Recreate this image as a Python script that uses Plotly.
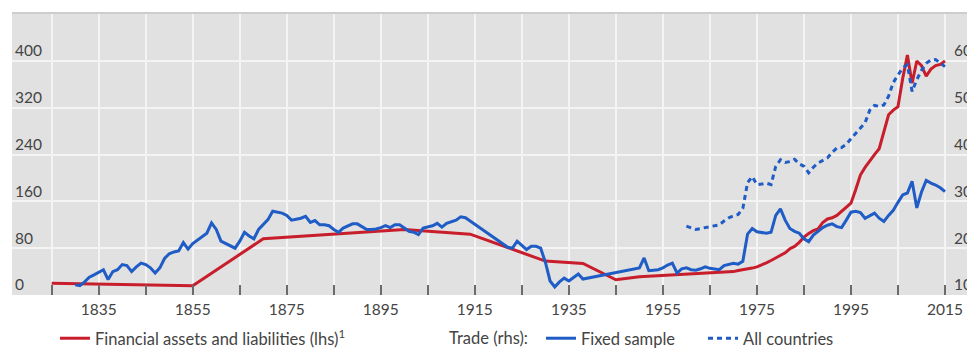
import plotly.graph_objects as go

# ---------------- data ----------------
fin_years = [1825, 1855, 1870, 1900, 1914, 1930, 1938, 1945, 1950, 1960,
             1970, 1971, 1972, 1973, 1974, 1975, 1976, 1977, 1978, 1979,
             1980, 1981, 1982, 1983, 1984, 1985, 1986, 1987, 1988, 1989,
             1990, 1991, 1992, 1993, 1994, 1995, 1996, 1997, 1998, 1999,
             2000, 2001, 2002, 2003, 2004, 2005, 2006, 2007, 2008, 2009,
             2010, 2011, 2012, 2013, 2014, 2015]
fin_values = [20, 16, 96, 112, 104, 58, 54, 26, 31, 36,
              40, 42, 43, 45, 46, 48, 51, 55, 59, 63,
              67, 72, 79, 83, 90, 99, 105, 110, 113, 124,
              130, 132, 136, 143, 150, 157, 180, 205, 218, 230,
              240, 250, 278, 308, 316, 322, 370, 410, 362, 400,
              392, 374, 386, 392, 394, 400]

fixed_years = list(range(1830, 1915)) + list(range(1921, 1940)) + list(range(1950, 2016))
fixed_values = [
    # 1830-1914
    12.2, 12.0, 12.8, 13.8, 14.3, 14.8, 15.4, 13.3, 15.0, 15.4,
    16.5, 16.3, 15.0, 16.0, 16.8, 16.5, 15.8, 14.7, 15.8, 17.8,
    18.8, 19.2, 19.4, 21.2, 19.8, 21.0, 21.8, 22.5, 23.2, 25.4,
    24.0, 21.5, 21.0, 20.5, 20.0, 21.5, 23.4, 22.6, 22.0, 24.0,
    25.0, 26.1, 27.9, 27.7, 27.5, 27.0, 26.0, 26.2, 26.4, 26.8,
    25.5, 25.9, 25.0, 25.0, 24.8, 24.0, 23.4, 24.3, 24.8, 25.2,
    25.2, 24.6, 24.0, 24.0, 24.1, 24.4, 24.8, 24.4, 25.0, 25.0,
    24.2, 23.6, 23.4, 22.9, 24.3, 24.6, 24.8, 25.3, 24.5, 25.3,
    25.6, 26.0, 26.7, 26.5, 25.8,
    # 1921-1939
    21.0, 20.2, 20.0, 21.5, 20.6, 19.7, 20.4, 20.4, 20.0, 17.0,
    13.0, 11.7, 12.8, 13.6, 13.0, 13.7, 14.5, 13.4, 13.6,
    # 1950-2015
    15.8, 17.9, 15.2, 15.3, 15.4, 15.8, 16.4, 16.8, 14.7, 15.6,
    15.8, 15.4, 15.3, 15.6, 16.0, 15.7, 15.5, 15.4, 16.3, 16.6,
    16.8, 16.6, 17.2, 23.0, 24.2, 23.5, 23.3, 23.2, 23.4, 27.0,
    28.4, 26.0, 24.2, 23.6, 23.2, 22.0, 21.4, 22.8, 23.6, 24.4,
    24.9, 25.2, 24.6, 24.4, 26.0, 27.7, 27.9, 27.6, 26.4, 27.0,
    27.5, 26.4, 25.7, 27.0, 28.1, 29.8, 31.4, 31.8, 34.3, 28.6,
    32.0, 34.5, 33.9, 33.5, 32.9, 32.1]

all_years = list(range(1960, 2016))
all_values = [24.7, 24.3, 24.0, 24.2, 24.4, 24.5, 24.8, 25.0, 25.8, 26.5,
              26.9, 27.2, 28.5, 34.0, 35.3, 33.6, 33.7, 33.9, 33.6, 37.5,
              38.9, 38.3, 38.5, 39.0, 38.0, 37.5, 36.1, 37.3, 38.2, 38.8,
              39.3, 40.5, 41.4, 41.5, 42.2, 43.4, 44.5, 45.8, 46.8, 49.5,
              50.5, 50.3, 50.6, 52.5, 55.4, 57.0, 58.5, 59.2, 53.5, 56.0,
              58.0, 59.5, 60.2, 60.3, 59.5, 58.8]

x_label_years = [1835, 1855, 1875, 1895, 1915, 1935, 1955, 1975, 1995, 2015]
x_label_text = ["1835", "1855", "1875", "1895", "1915", "1935", "1955", "1975", "1995", "2015"]
x_minor_years = [1825, 1845, 1865, 1885, 1905, 1925, 1945, 1965, 1985, 2005]
lhs_tickvals = [0, 80, 160, 240, 320, 400]
lhs_ticktext = ["0", "80", "160", "240", "320", "400"]
rhs_tickvals = [10, 20, 30, 40, 50, 60]
rhs_ticktext = ["10", "20", "30", "40", "50", "60"]

# ---------------- styles ----------------
RED = "#c81e2c"
BLUE = "#1f5cc6"
FONT = "Lato"
TXT = "#444444"
OFF = 8                                  # page body margin of the browser
W, H = 975 - OFF, 349 - OFF
PLOT_TOP, PLOT_BOTTOM = 13 - OFF, 295 - OFF
PLOT_LEFT = 12 - OFF
LHS_MAX = 482
PX_PER_UNIT = (PLOT_BOTTOM - PLOT_TOP) / LHS_MAX
LABEL_LIFT = 10 / PX_PER_UNIT          # tick labels sit ~10px above their grid line
RHS_MIN, RHS_SCALE = 10, 8             # rhs = 10 + lhs/8
GRID = "#f4f4f4"
TICKC = "#6b6b6b"
LEG_TOP = 321 - OFF
LEG_FONT = dict(family=FONT, size=16.5, color=TXT)

fig = go.Figure()
fig.add_trace(go.Scatter(x=fin_years, y=fin_values, mode="lines",
                         name="Financial assets and liabilities (lhs)<sup>1</sup>",
                         line=dict(color=RED, width=3), legend="legend"))
fig.add_trace(go.Scatter(x=fixed_years, y=fixed_values, mode="lines", name="Fixed sample",
                         line=dict(color=BLUE, width=3), yaxis="y2", legend="legend2"))
fig.add_trace(go.Scatter(x=all_years, y=all_values, mode="lines", name="All countries",
                         line=dict(color=BLUE, width=3, dash="5px,4px"), yaxis="y2",
                         legend="legend2"))

fig.update_layout(
    width=W, height=H,
    margin=dict(l=0, r=0, t=PLOT_TOP, b=H - PLOT_BOTTOM),
    paper_bgcolor="white",
    plot_bgcolor="#e1e1e1",
    showlegend=True,
    font=dict(family=FONT, size=15, color=TXT),
    xaxis=dict(domain=[PLOT_LEFT / W, 1], range=[1816.556, 2021.38], tickmode="array",
               tickvals=x_label_years, ticktext=x_label_text, ticks="inside", ticklen=10,
               tickwidth=1.5, tickcolor=TICKC, showgrid=True, gridcolor=GRID,
               gridwidth=2, zeroline=False, showline=False, automargin=False,
               ticklabelstandoff=3, tickfont=dict(size=15.5, color=TXT),
               minor=dict(tickmode="array", tickvals=x_minor_years, ticks="inside",
                          ticklen=10, tickwidth=1.5, tickcolor=TICKC, showgrid=True,
                          gridcolor=GRID, gridwidth=2)),
    yaxis=dict(range=[0, LHS_MAX], tickmode="array",
               tickvals=[v + LABEL_LIFT for v in lhs_tickvals], ticktext=lhs_ticktext,
               side="right", anchor="free", position=(PLOT_LEFT + 2) / W,
               showgrid=False, zeroline=False, showline=False, ticks="", ticklen=0,
               automargin=False, tickfont=dict(size=15.5, color=TXT),
               minor=dict(tickmode="array", tickvals=lhs_tickvals, showgrid=True,
                          gridcolor=GRID, gridwidth=2, ticks="")),
    yaxis2=dict(range=[RHS_MIN, RHS_MIN + LHS_MAX / RHS_SCALE], tickmode="array",
                tickvals=[v + LABEL_LIFT / RHS_SCALE for v in rhs_tickvals],
                ticktext=rhs_ticktext, overlaying="y", side="right", anchor="free",
                position=(954 - OFF - 1) / W, showgrid=False, zeroline=False,
                showline=False, ticks="", ticklen=0, automargin=False,
                tickfont=dict(size=15.5, color=TXT)),
    legend=dict(orientation="h", x=(55 - OFF) / W, xref="container",
                y=1 - LEG_TOP / H, yref="container", xanchor="left", yanchor="top",
                bgcolor="rgba(0,0,0,0)", font=LEG_FONT),
    legend2=dict(orientation="h", x=(541 - OFF) / W, xref="container",
                 y=1 - LEG_TOP / H, yref="container", xanchor="left", yanchor="top",
                 entrywidth=117, bgcolor="rgba(0,0,0,0)", font=LEG_FONT),
    annotations=[dict(text="Trade (rhs):", xref="paper", yref="paper",
                      x=(447 - OFF) / W,
                      y=(PLOT_BOTTOM - (338 - OFF)) / (PLOT_BOTTOM - PLOT_TOP),
                      xanchor="left", yanchor="middle", showarrow=False,
                      font=LEG_FONT)],
    shapes=[dict(type="line", xref="x domain", yref="paper", x0=0, x1=1, y0=1, y1=1,
                 line=dict(color="#cdcdcd", width=2))],
)

fig.write_html("out.html")
